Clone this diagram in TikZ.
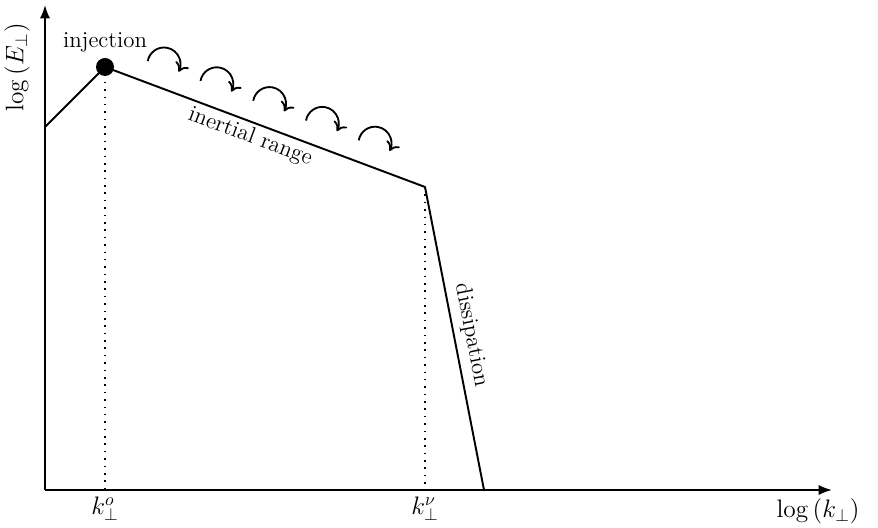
\documentclass[tikz,border=0pt]{standalone}
\usetikzlibrary{arrows.meta, positioning, calc}
\begin{document}
\begin{tikzpicture}[
  font=\fontsize{13}{15}\selectfont,
  axis/.style    = {-{Latex[length=2.7mm, width=2.1mm]}, line width=1.2pt},
  spec/.style    = {line width=1.1pt, line join=round},
  guide/.style   = {line width=1pt, dash pattern=on 0.9pt off 3.3pt},
  cascade/.style = {-{To[length=1.7mm, width=3mm]}, line width=1.05pt},
  dotb/.style    = {circle, fill=black, inner sep=0pt, minimum size=3.6mm},
  lbl/.style     = {inner sep=2pt},
  axlbl/.style   = {inner sep=2pt, font=\Large},
]
\useasboundingbox (-0.9,-0.74) rectangle (16.66,9.8);

% ---------- axes ----------
\coordinate (O)    at (0,0);
\coordinate (Xend) at (15.74,0);
\coordinate (Yend) at (0,9.7);
\draw[axis] (O) -- (Xend);
\draw[axis] (O) -- (Yend);
\node[axlbl] (xlab) at (15.46,-0.42) {$\log\left(k_\perp\right)$};
\node[axlbl, rotate=90] (ylab) at (-0.56,8.45) {$\log\left(E_\perp\right)$};

% ---------- spectrum ----------
\coordinate (start) at (0,7.26);
\coordinate (knee)  at (7.6,6.06);
\coordinate (stop)  at (8.78,0);
\node[dotb] (peak) at (1.2,8.46) {};

\draw[spec] (start) -- (peak.center)
  -- (knee) node[lbl, pos=0.47, sloped, below] (inert) {inertial range}
  -- (stop) node[lbl, pos=0.5, sloped, above, yshift=0.5mm] (diss) {dissipation};

% ---------- scales on the k axis ----------
\coordinate (Kfoot) at (peak |- O);
\coordinate (Nfoot) at (knee |- O);
\draw[guide] (peak.center) -- (Kfoot);
\draw[guide] (knee) -- (Nfoot);
\node[axlbl, below=0.6mm of Kfoot] (klab) {$k_\perp^{o}$};
\node[axlbl, below=0.6mm of Nfoot] (nlab) {$k_\perp^{\nu}$};

\node[lbl, above=0.4mm of peak] (inj) {injection};

% ---------- cascade arrows ----------
\foreach \i in {0,...,4}
  \draw[cascade] ($(2.38,8.52)+(\i*1.055,-\i*0.396)$) ++(170:0.33) arc (170:-28:0.33);

\end{tikzpicture}
\end{document}
